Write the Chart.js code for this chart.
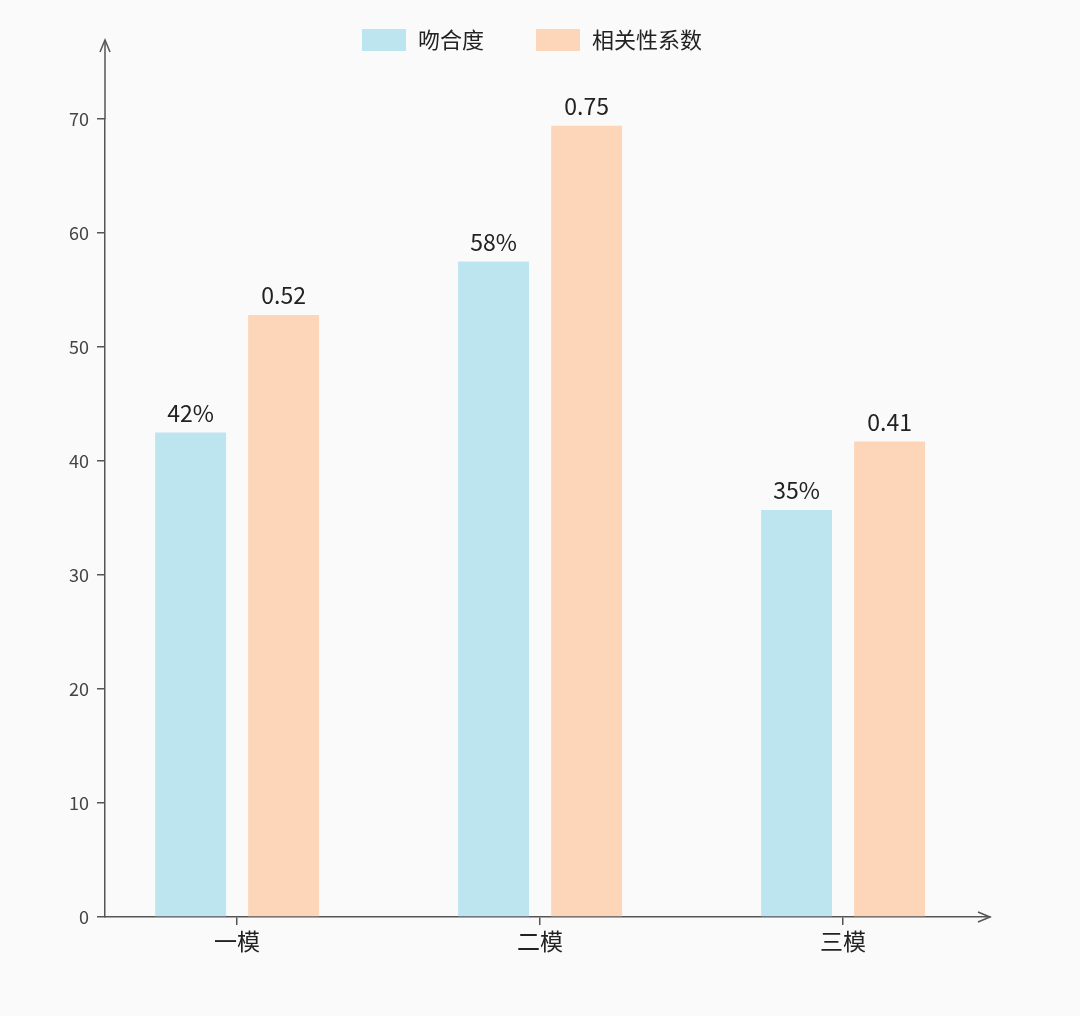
<!DOCTYPE html>
<html><head><meta charset="utf-8">
<script src="https://cdn.jsdelivr.net/npm/chart.js@4"></script>
<style>html,body{margin:0;background:#fafafa}#w{width:1080px;height:1016px}</style>
</head><body><div id="w"><canvas id="c"></canvas></div>
<script>
const categories = ['一模','二模','三模'];
const seriesNames = ['吻合度','相关性系数'];
const fitValues = [42.5, 57.5, 35.7];
const corrValues = [52.8, 69.4, 41.7];
const fitLabels = ['42%','58%','35%'];
const corrLabels = ['0.52','0.75','0.41'];
const yTicks = [0,10,20,30,40,50,60,70];
const colors = ['#bde5ef','#fdd6ba'];
const FONT = '"Noto Sans CJK SC","Noto Sans",sans-serif';

const deco = {
  id:'deco',
  afterDatasetsDraw(chart){
    const ctx = chart.ctx, a = chart.chartArea;
    ctx.save();
    ctx.font = '23px '+FONT; ctx.fillStyle = '#222'; ctx.textAlign='center'; ctx.textBaseline='bottom';
    [fitLabels, corrLabels].forEach((labs,di)=>{
      chart.getDatasetMeta(di).data.forEach((el,i)=>ctx.fillText(labs[i], el.x, el.y-8));
    });
    ctx.strokeStyle='#555'; ctx.lineWidth=1.5;
    ctx.beginPath(); ctx.moveTo(a.left, a.top); ctx.lineTo(a.left, 42); ctx.stroke();
    ctx.beginPath(); ctx.moveTo(a.left-5, 52); ctx.lineTo(a.left, 40); ctx.lineTo(a.left+5, 52); ctx.stroke();
    ctx.beginPath(); ctx.moveTo(a.right-12, a.bottom-5); ctx.lineTo(a.right, a.bottom); ctx.lineTo(a.right-12, a.bottom+5); ctx.stroke();
    const items = [[362,seriesNames[0]],[536,seriesNames[1]]];
    ctx.font='22px '+FONT; ctx.textAlign='left'; ctx.textBaseline='middle';
    items.forEach(([x,t],i)=>{
      ctx.fillStyle=colors[i]; ctx.fillRect(x,29,44,22);
      ctx.fillStyle='#222'; ctx.fillText(t, x+56, 40);
    });
    ctx.restore();
  }
};

new Chart(document.getElementById('c'),{
  type:'bar',
  data:{datasets:[
    {label:seriesNames[0], data:fitValues.map((v,i)=>({x:i,y:v})), backgroundColor:colors[0]},
    {label:seriesNames[1], data:corrValues.map((v,i)=>({x:i,y:v})), backgroundColor:colors[1]}
  ]},
  options:{
    responsive:true, maintainAspectRatio:false, animation:false,
    layout:{padding:{top:119,right:90,left:0,bottom:0}},
    datasets:{bar:{categoryPercentage:0.614, barPercentage:0.763}},
    plugins:{legend:{display:false}, tooltip:{enabled:false}},
    scales:{
      x:{type:'linear', min:-0.436, max:2.485, offset:false,
        afterBuildTicks:s=>{s.ticks=[0,1,2].map(v=>({value:v}));},
        afterFit:s=>{s.height=99;},
        grid:{offset:false, drawOnChartArea:false, drawTicks:true, tickLength:8, color:'#555', lineWidth:1.5},
        border:{color:'#555', width:1.5},
        ticks:{callback:v=>categories[v], color:'#222', font:{family:FONT,size:23}, padding:2}},
      y:{min:0, max:70,
        afterBuildTicks:s=>{s.ticks=yTicks.map(v=>({value:v}));},
        afterFit:s=>{s.width=105;},
        grid:{drawOnChartArea:false, drawTicks:true, tickLength:8, color:'#555', lineWidth:1.5},
        border:{color:'#555', width:1.5},
        ticks:{color:'#444', font:{family:FONT,size:18}, padding:8}}
    }
  },
  plugins:[deco]
});
</script></body></html>
